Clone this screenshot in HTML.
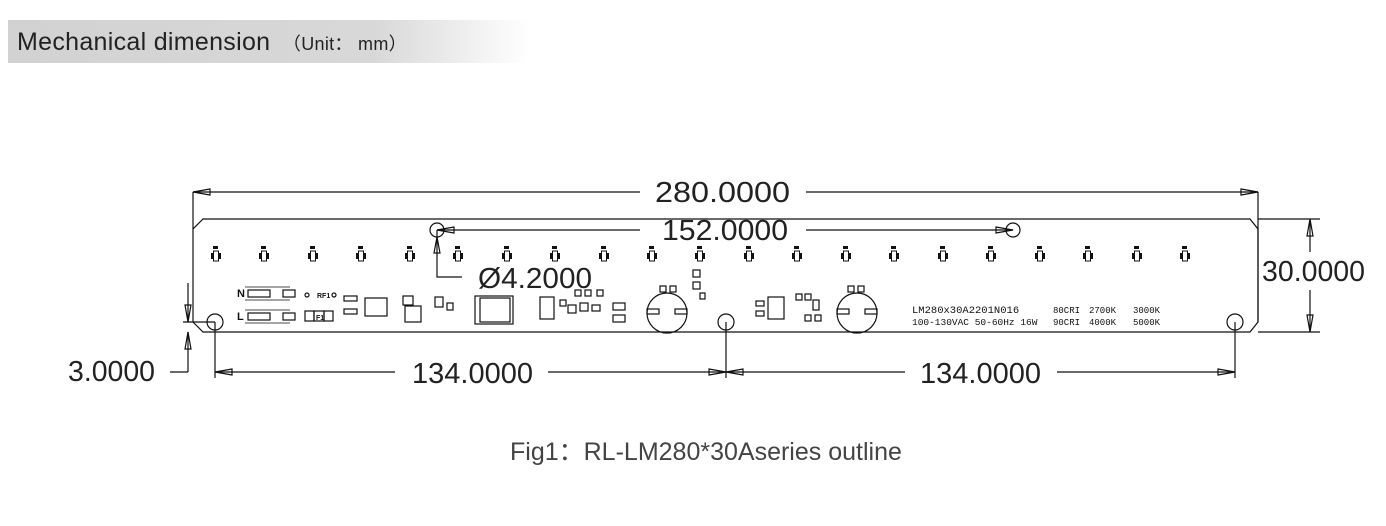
<!DOCTYPE html>
<html><head><meta charset="utf-8"><style>
body{margin:0;background:#fff;width:1386px;height:526px;overflow:hidden;position:relative;font-family:"Liberation Sans",sans-serif}
.hdr{position:absolute;left:8px;top:20px;width:522px;height:43px;background:linear-gradient(90deg,#d2d2d2 0%,#d8d8d8 70%,#fff 100%)}
.hdr span{position:absolute;left:9px;top:8px;font-size:25px;color:#222;letter-spacing:0.3px}
.hdr small{font-size:18px}
.cap{position:absolute;left:510px;top:432px;font-size:25px;color:#444}
svg{position:absolute;left:0;top:0}
</style></head><body>
<div class="hdr"><span>Mechanical dimension <small>&nbsp;（Unit： mm）</small></span></div>
<svg width="1386" height="526" viewBox="0 0 1386 526" font-family="Liberation Sans, sans-serif">
<defs><g id="L"><rect x="-5" y="-3" width="3" height="6"/><rect x="2" y="-3" width="3" height="6"/><rect x="-2.5" y="-5" width="5" height="10" fill="#fff" stroke="#111"/><rect x="-3" y="-10" width="5" height="3"/></g></defs>
<g stroke="#111" fill="none" stroke-width="1.2">
<path d="M203 219 L1250 219 L1258 229 L1258 322 L1250 332 L203 332 L193 322 L193 229 Z"/>
<line x1="1258" y1="332" x2="1320" y2="332"/>
<line x1="1258" y1="219" x2="1320" y2="219"/>
<line x1="193" y1="192" x2="193" y2="229"/>
<line x1="1258" y1="192" x2="1258" y2="322"/>
<line x1="193" y1="192" x2="640" y2="192"/>
<line x1="806" y1="192" x2="1258" y2="192"/>
<path d="M193 192 L210 189 L210 195 Z M1258 192 L1241 189 L1241 195 Z"/>
<circle cx="437" cy="230" r="7"/><circle cx="1013" cy="230" r="7"/>
<line x1="437" y1="230" x2="640" y2="230"/>
<line x1="806" y1="230" x2="1013" y2="230"/>
<path d="M437 230 L454 227 L454 233 Z M1013 230 L996 227 L996 233 Z"/>
<path d="M437 230 L437 277 L462 277"/>
<path d="M437 237 L434 253 L440 253 Z"/>
<line x1="1310" y1="219" x2="1310" y2="252"/>
<line x1="1310" y1="290" x2="1310" y2="332"/>
<path d="M1310 219 L1307 236 L1313 236 Z M1310 332 L1307 315 L1313 315 Z"/>
<circle cx="215" cy="322" r="8"/><circle cx="726" cy="322" r="8"/><circle cx="1235" cy="322" r="8"/>
<line x1="215" y1="322" x2="215" y2="378"/>
<line x1="726" y1="322" x2="726" y2="378"/>
<line x1="1235" y1="322" x2="1235" y2="378"/>
<line x1="215" y1="372" x2="395" y2="372"/>
<line x1="548" y1="372" x2="726" y2="372"/>
<line x1="726" y1="372" x2="905" y2="372"/>
<line x1="1057" y1="372" x2="1235" y2="372"/>
<path d="M215 372 L232 369 L232 375 Z M726 372 L709 369 L709 375 Z M726 372 L743 369 L743 375 Z M1235 372 L1218 369 L1218 375 Z"/>
<line x1="183" y1="322" x2="215" y2="322"/>
<line x1="188" y1="283" x2="188" y2="322"/>
<line x1="188" y1="332" x2="188" y2="372"/>
<line x1="170" y1="372" x2="188" y2="372"/>
<path d="M188 322 L185 305 L191 305 Z M188 332 L185 349 L191 349 Z"/>
<rect x="248" y="290" width="22" height="7"/><rect x="283" y="290" width="12" height="7"/>
<rect x="248" y="313" width="22" height="7"/><rect x="283" y="313" width="12" height="7"/>
<path d="M245 287 H290 M245 300 H290 M245 310 H290 M245 323 H290" stroke-width="0.8"/>
<circle cx="307" cy="295" r="2"/><circle cx="334" cy="295" r="2"/>
<rect x="305" y="311" width="9" height="10"/><rect x="324" y="311" width="9" height="10"/><rect x="314" y="311" width="10" height="10"/>
<rect x="344" y="296" width="13" height="5"/><rect x="344" y="309" width="13" height="5"/>
<rect x="365" y="298" width="22" height="18"/>
<rect x="403" y="296" width="10" height="9"/><rect x="405" y="306" width="16" height="16"/><rect x="475" y="296" width="38" height="28"/><rect x="480" y="298" width="30" height="24"/>
<rect x="435" y="297" width="8" height="10"/><rect x="447" y="303" width="6" height="7"/>
<rect x="540" y="297" width="14" height="22"/><rect x="560" y="300" width="6" height="6"/><rect x="568" y="305" width="8" height="8"/><rect x="580" y="303" width="8" height="8"/><rect x="592" y="305" width="8" height="6"/>
<rect x="575" y="290" width="6" height="6"/><rect x="585" y="290" width="6" height="6"/><rect x="597" y="290" width="6" height="6"/>
<rect x="613" y="303" width="12" height="7"/><rect x="613" y="315" width="12" height="7"/>
<rect x="693" y="270" width="7" height="7"/><rect x="693" y="282" width="7" height="7"/><rect x="700" y="293" width="5" height="6"/>
<rect x="660" y="286" width="6" height="6"/><rect x="670" y="286" width="6" height="6"/>
<circle cx="667" cy="313" r="20"/><rect x="647" y="309" width="12" height="5"/><rect x="675" y="309" width="12" height="5"/>
<rect x="768" y="297" width="16" height="22"/><rect x="756" y="301" width="8" height="5"/><rect x="756" y="311" width="8" height="5"/>
<rect x="796" y="294" width="6" height="6"/><rect x="805" y="294" width="6" height="6"/><rect x="813" y="300" width="6" height="10"/><rect x="805" y="315" width="6" height="6"/><rect x="815" y="315" width="6" height="6"/>
<circle cx="857" cy="313" r="20"/><rect x="837" y="309" width="12" height="5"/><rect x="865" y="309" width="12" height="5"/>
<rect x="848" y="286" width="6" height="6"/><rect x="858" y="286" width="6" height="6"/>
</g>
<g fill="#111">
<use href="#L" x="216" y="256"/><use href="#L" x="264" y="256"/><use href="#L" x="313" y="256"/><use href="#L" x="361" y="256"/><use href="#L" x="410" y="256"/><use href="#L" x="458" y="256"/><use href="#L" x="507" y="256"/><use href="#L" x="555" y="256"/><use href="#L" x="604" y="256"/><use href="#L" x="652" y="256"/><use href="#L" x="700" y="256"/><use href="#L" x="749" y="256"/><use href="#L" x="797" y="256"/><use href="#L" x="846" y="256"/><use href="#L" x="894" y="256"/><use href="#L" x="943" y="256"/><use href="#L" x="991" y="256"/><use href="#L" x="1040" y="256"/><use href="#L" x="1088" y="256"/><use href="#L" x="1137" y="256"/><use href="#L" x="1185" y="256"/>
</g>
<g fill="#111" font-size="8" font-weight="bold">
<text x="237" y="297" font-size="11">N</text><text x="237" y="320" font-size="11">L</text>
<text x="317" y="298" font-size="7">RF1</text><text x="316" y="320" font-size="7">F1</text>
</g>
<g fill="#111" font-family="Liberation Mono, monospace" font-size="10.5">
<text x="912" y="313">LM280x30A2201N016</text><text x="1053" y="313" font-size="9">80CRI</text><text x="1089" y="313" font-size="9">2700K</text><text x="1133" y="313" font-size="9">3000K</text>
<text x="912" y="325" font-size="9.5">100-130VAC 50-60Hz 16W</text><text x="1053" y="325" font-size="9">90CRI</text><text x="1089" y="325" font-size="9">4000K</text><text x="1133" y="325" font-size="9">5000K</text>
</g>
<g fill="#222" font-size="29">
<text x="655" y="202" textLength="135" lengthAdjust="spacingAndGlyphs">280.0000</text>
<text x="662" y="240" textLength="126" lengthAdjust="spacingAndGlyphs">152.0000</text>
<text x="478" y="288" textLength="114" lengthAdjust="spacingAndGlyphs">Ø4.2000</text>
<text x="1262" y="281" textLength="103" lengthAdjust="spacingAndGlyphs">30.0000</text>
<text x="412" y="383" textLength="121" lengthAdjust="spacingAndGlyphs">134.0000</text>
<text x="920" y="383" textLength="121" lengthAdjust="spacingAndGlyphs">134.0000</text>
<text x="68" y="381" textLength="87" lengthAdjust="spacingAndGlyphs">3.0000</text>
</g>
</svg>
<div class="cap">Fig1：RL-LM280*30Aseries outline</div>
</body></html>
